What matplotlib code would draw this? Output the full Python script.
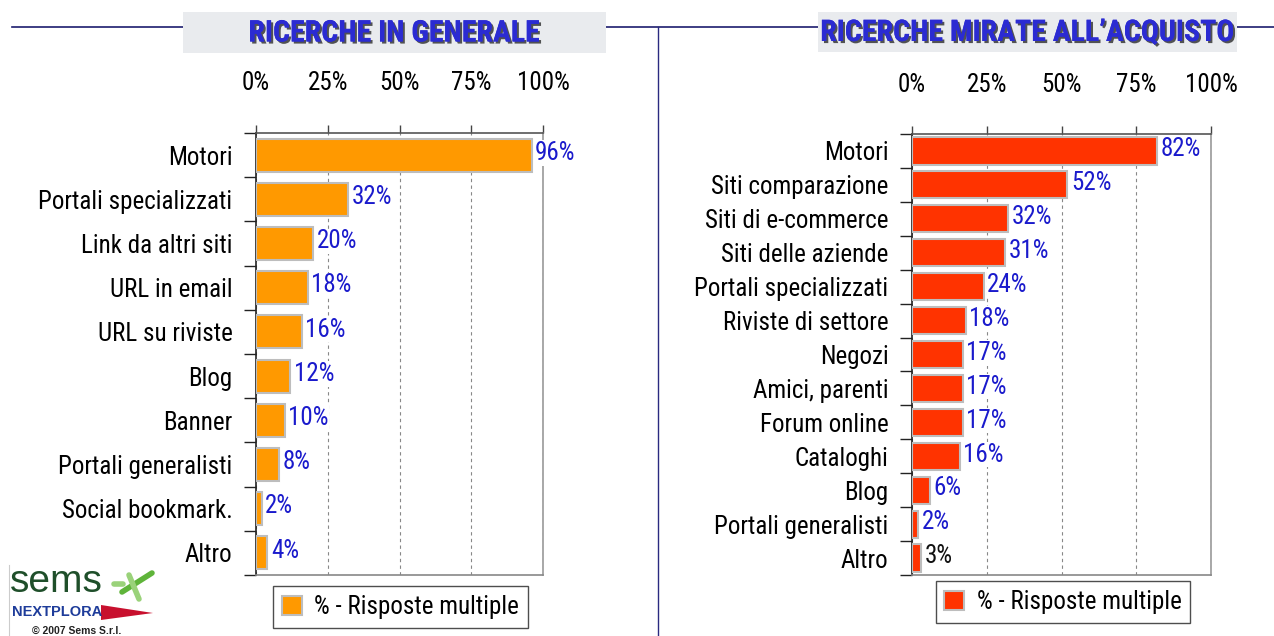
import numpy as np
import matplotlib
matplotlib.use("Agg")
import matplotlib.pyplot as plt
import matplotlib.patheffects as pe
from matplotlib.patches import Rectangle, Polygon, Patch
from matplotlib.lines import Line2D

plt.rcParams['font.family'] = ['Liberation Sans Narrow', 'Roboto Condensed',
                               'Liberation Sans', 'DejaVu Sans']
PLAIN = ['Liberation Sans', 'DejaVu Sans']

# Data
cat_gen = ['Motori', 'Portali specializzati', 'Link da altri siti', 'URL in email',
           'URL su riviste', 'Blog', 'Banner', 'Portali generalisti',
           'Social bookmark.', 'Altro']
val_gen = [96, 32, 20, 18, 16, 12, 10, 8, 2, 4]

cat_acq = ['Motori', 'Siti comparazione', 'Siti di e-commerce', 'Siti delle aziende',
           'Portali specializzati', 'Riviste di settore', 'Negozi', 'Amici, parenti',
           'Forum online', 'Cataloghi', 'Blog', 'Portali generalisti', 'Altro']
val_acq = [82, 52, 32, 31, 24, 18, 17, 17, 17, 16, 6, 2, 3]

ticks = [0, 25, 50, 75, 100]
tick_labels = ['0%', '25%', '50%', '75%', '100%']

W, H = 1274, 636
FS = 18
fig = plt.figure(figsize=(W / 100, H / 100), dpi=100)


def fx(px):
    return px / W


def fy(py):
    return 1 - py / H


def panel(rect, cats, vals, color, title, title_box, legend_box, label_colors=None):
    ax = fig.add_axes(rect)
    n = len(cats)
    y = np.arange(n)
    bars = ax.barh(y, vals, height=0.75 if n < 12 else 0.8, color=color,
                   edgecolor='#bdbdbd', linewidth=1.5, zorder=3)
    ax.set_xlim(0, 100)
    ax.set_ylim(n - 0.5, -0.5)

    # x ticks on top, labels far above
    ax.xaxis.set_ticks_position('top')
    ax.set_xticks(ticks)
    ax.set_xticklabels(tick_labels, fontsize=FS)
    ax.tick_params(axis='x', length=6, width=1, color='#444444', pad=21)
    ax.grid(axis='x', linestyle=(0, (3, 3)), color='#888888', linewidth=0.8, zorder=0)

    # categories, ticks between bars
    ax.set_yticks(y)
    ax.set_yticklabels(cats, fontsize=FS)
    ax.tick_params(axis='y', length=0, pad=17)
    ax.set_yticks(np.arange(n + 1) - 0.5, minor=True)
    ax.tick_params(axis='y', which='minor', length=9, width=1, color='#222222')

    ax.spines['left'].set_color('#222222')
    ax.spines['top'].set_color('#555555')
    ax.spines['right'].set_color('#999999')
    ax.spines['bottom'].set_color('#888888')
    for s in ax.spines.values():
        s.set_linewidth(1.2)

    for i, v in enumerate(vals):
        c = '#1a1acc' if label_colors is None else label_colors[i]
        ax.text(v + 1.2, i - 0.05, f'{v}%', va='center', ha='left', fontsize=FS,
                color=c, zorder=4,
                bbox=dict(facecolor='white', edgecolor='none', pad=0.5))

    # title box
    x0, y0, x1, y1 = title_box
    fig.patches.append(Rectangle((fx(x0), fy(y1)), fx(x1 - x0), fy(y0) - fy(y1),
                                 transform=fig.transFigure, facecolor='#e9ebee',
                                 edgecolor='none', zorder=2))
    fig.text(fx((x0 + x1) / 2), fy((y0 + y1) / 2 + 1), title, ha='center', va='center',
             fontsize=21.5, fontweight='bold', color='#2b2bd2', zorder=3,
             path_effects=[pe.withSimplePatchShadow(offset=(1.5, -1.5),
                                                    shadow_rgbFace='#111111', alpha=0.7),
                           pe.Normal()])

    # legend
    lx0, ly0, lx1, ly1 = legend_box
    handle = Patch(facecolor=color, edgecolor='#bdbdbd', linewidth=1.5)
    leg = ax.legend(handles=[handle], labels=['% - Risposte multiple'], loc='center',
                    bbox_to_anchor=(fx((lx0 + lx1) / 2), fy((ly0 + ly1) / 2)),
                    bbox_transform=fig.transFigure, fontsize=FS, frameon=True,
                    fancybox=False, handlelength=0.8, handleheight=0.8,
                    handletextpad=0.5, borderpad=0.35, borderaxespad=0)
    leg.get_frame().set_edgecolor('#222222')
    leg.get_frame().set_linewidth(1.0)
    return ax


# header line and divider
fig.add_artist(Line2D([fx(12), fx(1274)], [fy(27), fy(27)], color='#1c1c6e',
                      linewidth=1.2, transform=fig.transFigure, zorder=1))
fig.add_artist(Line2D([fx(658), fx(658)], [fy(27), fy(636)], color='#2a2a80',
                      linewidth=1.0, transform=fig.transFigure, zorder=1))

panel([fx(256), fy(575), fx(287), fy(133) - fy(575)], cat_gen, val_gen,
      '#ff9900', 'RICERCHE IN GENERALE', (183, 12, 606, 53), (278, 586, 523, 628))

acq_colors = ['#1a1acc'] * (len(val_acq) - 1) + ['#111111']
panel([fx(912), fy(575), fx(299), fy(134) - fy(575)], cat_acq, val_acq,
      '#ff3300', 'RICERCHE MIRATE ALL\u2019ACQUISTO', (818, 12, 1237, 52),
      (940, 582, 1186, 622), label_colors=acq_colors)

# logo
fig.add_artist(Line2D([fx(9), fx(9)], [fy(565), fy(636)], color='#cccccc',
                      linewidth=0.8, transform=fig.transFigure))
fig.text(fx(10), fy(582), 'sems', fontsize=28, color='#1f4f2a', family=PLAIN,
         va='center', ha='left')
for (xa, ya, xb, yb, c) in [(122, 592, 152, 573, '#5fb43a'), (129, 575, 139, 599, '#9ad27a'),
                            (114, 584, 123, 584, '#9ad27a')]:
    fig.add_artist(Line2D([fx(xa), fx(xb)], [fy(ya), fy(yb)], color=c,
                          linewidth=4, solid_capstyle='round', transform=fig.transFigure))
fig.text(fx(12), fy(612), 'NEXTPLORA', fontsize=10.5, fontweight='bold', color='#1e3c9a',
         family=PLAIN, va='center', ha='left')
fig.patches.append(Polygon([[fx(101), fy(605)], [fx(101), fy(620)], [fx(153), fy(613)]],
                           closed=True, transform=fig.transFigure,
                           facecolor='#c8102e', edgecolor='none'))
fig.text(fx(32), fy(631), '\u00a9 2007 Sems S.r.l.', fontsize=7.5, fontweight='bold',
         color='#222222', family=PLAIN, va='center', ha='left')

fig.savefig('out.png', dpi=100)
